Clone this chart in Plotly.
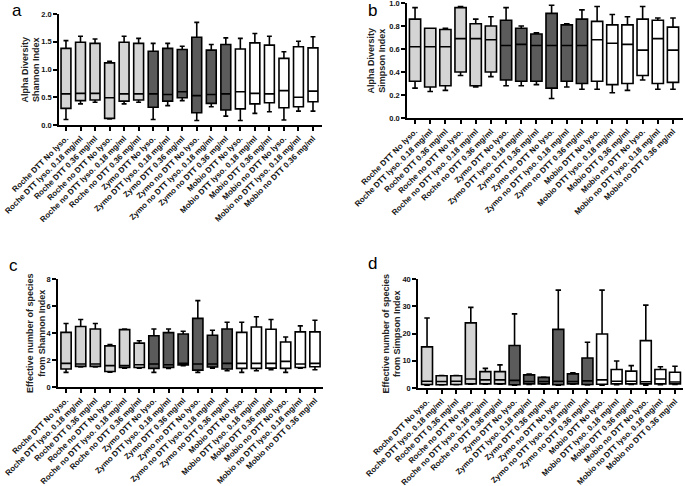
import plotly.graph_objects as go

categories = [
    "Roche DTT No lyso.", "Roche DTT lyso. 0.18 mg/ml", "Roche DTT 0.36 mg/ml",
    "Roche no DTT No lyso.", "Roche no DTT lyso. 0.18 mg/ml", "Roche no DTT 0.36 mg/ml",
    "Zymo DTT No lyso.", "Zymo DTT lyso. 0.18 mg/ml", "Zymo DTT 0.36 mg/ml",
    "Zymo no DTT No lyso.", "Zymo no DTT lyso. 0.18 mg/ml", "Zymo no DTT 0.36 mg/ml",
    "Mobio DTT No lyso.", "Mobio DTT lyso. 0.18 mg/ml", "Mobio DTT 0.36 mg/ml",
    "Mobio no DTT No lyso.", "Mobio no DTT lyso. 0.18 mg/ml", "Mobio no DTT 0.36 mg/ml",
]
group_names = ["Roche", "Zymo", "Mobio"]
group_colors = ["#d4d4d4", "#5b5b5b", "#ffffff"]

# Panel a: Shannon index
a_lo = [0.10, 0.38, 0.41, 0.11, 0.38, 0.41, 0.10, 0.35, 0.44, 0.08, 0.33, 0.16, 0.08, 0.21, 0.24, 0.09, 0.25, 0.25]
a_q1 = [0.30, 0.44, 0.45, 0.12, 0.43, 0.45, 0.32, 0.43, 0.49, 0.22, 0.39, 0.27, 0.29, 0.38, 0.40, 0.31, 0.33, 0.42]
a_med = [0.56, 0.57, 0.57, 0.49, 0.56, 0.56, 0.56, 0.55, 0.60, 0.53, 0.55, 0.56, 0.60, 0.57, 0.56, 0.62, 0.50, 0.61]
a_q3 = [1.38, 1.49, 1.47, 1.12, 1.49, 1.47, 1.33, 1.38, 1.36, 1.58, 1.35, 1.45, 1.37, 1.48, 1.44, 1.20, 1.41, 1.39]
a_hi = [1.52, 1.60, 1.55, 1.15, 1.60, 1.56, 1.47, 1.47, 1.42, 1.85, 1.45, 1.57, 1.56, 1.65, 1.60, 1.32, 1.51, 1.59]

# Panel b: Simpson index
b_lo = [0.26, 0.23, 0.24, 0.37, 0.27, 0.36, 0.28, 0.28, 0.29, 0.17, 0.27, 0.25, 0.25, 0.22, 0.24, 0.33, 0.25, 0.25]
b_q1 = [0.32, 0.27, 0.28, 0.40, 0.28, 0.40, 0.33, 0.32, 0.32, 0.26, 0.32, 0.30, 0.32, 0.29, 0.30, 0.37, 0.30, 0.31]
b_med = [0.62, 0.62, 0.62, 0.69, 0.69, 0.68, 0.63, 0.64, 0.63, 0.63, 0.63, 0.63, 0.68, 0.65, 0.64, 0.59, 0.69, 0.59]
b_q3 = [0.86, 0.78, 0.77, 0.96, 0.82, 0.80, 0.85, 0.78, 0.73, 0.91, 0.81, 0.86, 0.84, 0.81, 0.81, 0.86, 0.85, 0.79]
b_hi = [0.96, 0.78, 0.78, 0.97, 0.86, 0.88, 0.96, 0.80, 0.74, 0.98, 0.82, 0.94, 0.97, 0.90, 0.88, 0.97, 0.87, 0.87]

# Panel c: effective number of species from Shannon
c_lo = [1.08, 1.48, 1.48, 1.10, 1.40, 1.40, 1.08, 1.38, 1.58, 1.08, 1.40, 1.20, 1.08, 1.20, 1.28, 1.08, 1.40, 1.28]
c_q1 = [1.33, 1.53, 1.53, 1.15, 1.45, 1.45, 1.38, 1.45, 1.63, 1.25, 1.48, 1.33, 1.38, 1.38, 1.40, 1.38, 1.45, 1.50]
c_med = [1.75, 1.70, 1.70, 1.58, 1.58, 1.65, 1.70, 1.65, 1.75, 1.70, 1.70, 1.75, 1.75, 1.75, 1.75, 1.90, 1.70, 1.75]
c_q3 = [4.05, 4.48, 4.30, 3.05, 4.25, 3.25, 3.80, 4.03, 3.93, 5.08, 3.83, 4.30, 4.05, 4.45, 4.28, 3.33, 4.08, 4.08]
c_hi = [4.70, 5.00, 4.70, 3.15, 4.30, 3.43, 4.30, 4.30, 4.13, 6.40, 4.20, 4.80, 4.80, 5.20, 5.00, 3.70, 4.53, 4.95]

# Panel d: effective number of species from Simpson
d_lo = [1.0, 1.1, 1.2, 1.4, 1.4, 1.4, 1.0, 1.3, 1.4, 1.0, 1.4, 1.1, 1.0, 1.2, 1.3, 1.0, 1.2, 1.3]
d_q1 = [1.3, 1.2, 1.3, 1.5, 1.5, 1.5, 1.2, 1.5, 1.5, 1.2, 1.5, 1.3, 1.4, 1.5, 1.5, 1.5, 1.5, 1.5]
d_med = [2.5, 2.4, 2.5, 3.3, 3.0, 3.0, 2.8, 2.4, 2.4, 2.5, 2.4, 2.6, 3.0, 2.5, 2.5, 2.3, 3.3, 2.2]
d_q3 = [15.1, 4.5, 4.5, 23.9, 6.0, 6.0, 15.6, 4.8, 3.9, 21.5, 5.2, 11.0, 19.8, 6.8, 6.2, 17.4, 6.8, 5.8]
d_hi = [25.7, 4.6, 4.6, 29.6, 7.2, 8.5, 27.2, 5.1, 4.0, 35.9, 5.6, 16.8, 35.9, 9.9, 8.2, 30.4, 7.8, 8.0]

panels = [
    dict(letter="a", lo=a_lo, q1=a_q1, med=a_med, q3=a_q3, hi=a_hi,
         title="Alpha Diversity<br>Shannon Index",
         ticks=[0, 0.5, 1.0, 1.5, 2.0], fmt=".1f", yr=[0, 2.0],
         px_x=(59, 322), px_y=(125, 14), xr=[-0.48, 17.62], bw=0.68,
         title_x=30, letter_xy=(17, 11)),
    dict(letter="b", lo=b_lo, q1=b_q1, med=b_med, q3=b_q3, hi=b_hi,
         title="Alpha Diversity<br>Simpson Index",
         ticks=[0, 0.2, 0.4, 0.6, 0.8, 1.0], fmt=".1f", yr=[0, 1.0],
         px_x=(407, 683), px_y=(118, 3), xr=[-0.53, 17.66], bw=0.74,
         title_x=377, letter_xy=(372, 10)),
    dict(letter="c", lo=c_lo, q1=c_q1, med=c_med, q3=c_q3, hi=c_hi,
         title="Effective number of species<br>from Shannon Index",
         ticks=[0, 2, 4, 6, 8], fmt="d", yr=[0, 8],
         px_x=(58, 323), px_y=(387, 279), xr=[-0.55, 17.55], bw=0.70,
         title_x=36, letter_xy=(13, 265)),
    dict(letter="d", lo=d_lo, q1=d_q1, med=d_med, q3=d_q3, hi=d_hi,
         title="Effective number of species<br>from Simpson Index",
         ticks=[0, 10, 20, 30, 40], fmt="d", yr=[0, 40],
         px_x=(418, 683), px_y=(388, 279), xr=[-0.62, 17.55], bw=0.75,
         title_x=391, letter_xy=(372, 263)),
]

W, H = 685, 486
fig = go.Figure()
layout = dict(
    width=W, height=H, autosize=False,
    margin=dict(l=0, r=0, t=0, b=0, autoexpand=False),
    paper_bgcolor="white", plot_bgcolor="white",
    showlegend=False, boxmode="overlay",
    font=dict(family="Liberation Sans, Arial, sans-serif", color="#000"),
    annotations=[],
)

for i, p in enumerate(panels):
    n = "" if i == 0 else str(i + 1)
    xa, ya = "x" + n, "y" + n
    for g in range(3):
        sl = slice(g * 6, g * 6 + 6)
        fig.add_trace(go.Box(
            x=categories[sl],
            lowerfence=p["lo"][sl], q1=p["q1"][sl], median=p["med"][sl],
            q3=p["q3"][sl], upperfence=p["hi"][sl],
            fillcolor=group_colors[g],
            line=dict(color="black", width=1.6),
            width=p["bw"], whiskerwidth=0.5,
            boxpoints=False, name=group_names[g],
            xaxis=xa, yaxis=ya,
        ))
    x0, x1 = p["px_x"]
    yb, yt = p["px_y"]
    layout["xaxis" + n] = dict(
        domain=[x0 / W, x1 / W], anchor=ya, automargin=False,
        type="category", categoryorder="array", categoryarray=categories,
        range=p["xr"], showline=True, linecolor="black", linewidth=1.5,
        ticks="outside", ticklen=4, tickwidth=1.5, tickcolor="black",
        tickangle=-45, tickfont=dict(size=8, color="#111", weight="bold"),
        ticklabeloverflow="allow",
        showgrid=False, zeroline=False, fixedrange=True,
    )
    layout["yaxis" + n] = dict(
        domain=[1 - yb / H, 1 - yt / H], anchor=xa, automargin=False,
        range=p["yr"], tickvals=p["ticks"], tickformat=p["fmt"],
        showline=True, linecolor="black", linewidth=1.5,
        ticks="outside", ticklen=4, tickwidth=1.5, tickcolor="black",
        tickfont=dict(size=7.5, color="#111", weight="bold"),
        ticklabeloverflow="allow",
        showgrid=False, zeroline=False, fixedrange=True,
    )
    layout["annotations"].append(dict(
        text="<b>" + p["title"] + "</b>", textangle=-90,
        xref="paper", yref="paper", x=p["title_x"] / W,
        y=1 - ((yb + yt) / 2) / H, xanchor="center", yanchor="middle",
        showarrow=False, font=dict(size=9, color="#222"),
    ))
    lx, ly = p["letter_xy"]
    layout["annotations"].append(dict(
        text=p["letter"], xref="paper", yref="paper",
        x=lx / W, y=1 - ly / H, xanchor="center", yanchor="middle",
        showarrow=False, font=dict(size=17, color="black"),
    ))

fig.update_layout(**layout)
fig.write_html(
    "out.html",
    config={"displayModeBar": False},
    post_script="document.body.style.margin='0';document.body.style.overflow='hidden';",
)
